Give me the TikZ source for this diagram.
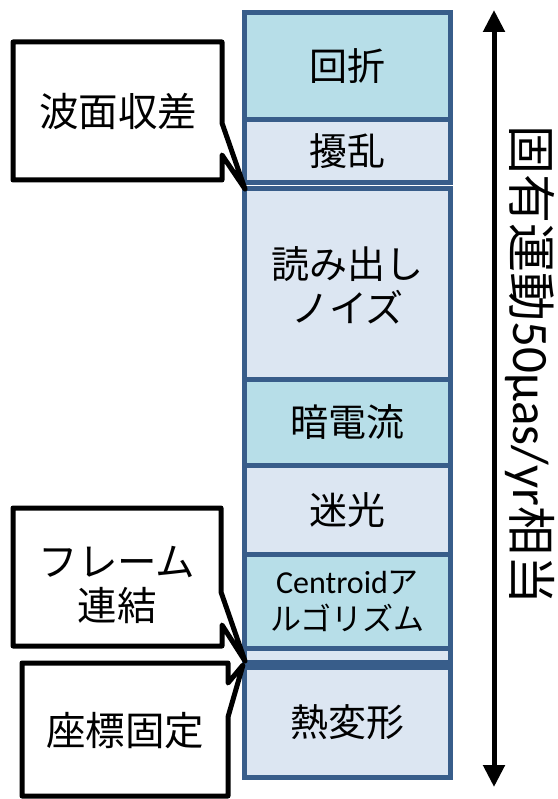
\documentclass[tikz,border=0pt]{standalone}
\usepackage{fontspec}
\newfontfamily\jpfont{Noto Sans CJK JP}
\newfontfamily\latfont{Carlito}
\usetikzlibrary{arrows.meta}
\definecolor{cellblue}{HTML}{B7DEE8}
\definecolor{celllight}{HTML}{DCE6F2}
\definecolor{cellborder}{HTML}{385D8A}
\tikzset{
  cell/.style={draw=cellborder, line width=5pt, minimum width=206pt, inner sep=0pt,
    align=center, text=black, font=\jpfont\fontsize{38}{44}\selectfont},
  calloutbox/.style={draw=black, line width=5pt, fill=white, line join=round},
  calltext/.style={font=\jpfont\fontsize{39.5}{44}\selectfont, align=center, inner sep=0pt, text=black},
  bigarrow/.style={line width=5pt, draw=black, {Triangle[width=21pt,length=22pt]}-{Triangle[width=21pt,length=22pt]}},
}
\begin{document}
\begin{tikzpicture}[x=1pt,y=-1pt]
\path[use as bounding box] (0,0) rectangle (557,799);
% column cells
\node[cell, fill=cellblue,  minimum height=107pt] (r1) at (347.5,66) {回折};
\node[cell, fill=celllight, minimum height=63pt]  (r2) at (347.5,151) {擾乱};
\node[cell, fill=celllight, minimum height=193pt] (r3) at (347.5,285) {読み出し\\ノイズ};
\node[cell, fill=cellblue,  minimum height=86pt]  (r4) at (347.5,422.5) {暗電流};
\node[cell, fill=celllight, minimum height=89pt]  (r5) at (347.5,510) {迷光};
\node[cell, fill=cellblue,  minimum height=94pt, font=\jpfont\fontsize{31}{37}\selectfont] (r6) at (347.5,601.5) {{\latfont\fontsize{32}{37}\selectfont Centroid}ア\\ルゴリズム};
\node[cell, fill=celllight, minimum height=14pt]  (r7) at (347.5,655.5) {};
\node[cell, fill=celllight, minimum height=110pt] (r8) at (347.5,722.5) {熱変形};
% double arrow
\coordinate (atop) at (494,10);
\coordinate (abot) at (494,787);
\draw[bigarrow] (atop) -- (abot);
\node[rotate=-90, inner sep=0pt, text=black, font=\jpfont\fontsize{49}{51}\selectfont] (vlab) at (530,365)
  {固有運動{\latfont\fontsize{51}{51}\selectfont 50μas/yr}相当};
% callouts
\draw[calloutbox] (13,42) -- (222,42) -- (222,123) -- (245,189) -- (222,155) -- (222,180) -- (13,180) -- cycle;
\node[calltext] (c1) at (118,111) {波面収差};
\draw[calloutbox] (13,508) -- (221,508) -- (221,592) -- (245,661) -- (222,625) -- (222,646) -- (13,646) -- cycle;
\node[calltext] (c2) at (117,585) {フレーム\\連結};
\draw[calloutbox] (22,663) -- (228,663) -- (228,683) -- (243,665) -- (228,717) -- (228,796) -- (22,796) -- cycle;
\node[calltext] (c3) at (125,731) {座標固定};
\end{tikzpicture}
\end{document}
